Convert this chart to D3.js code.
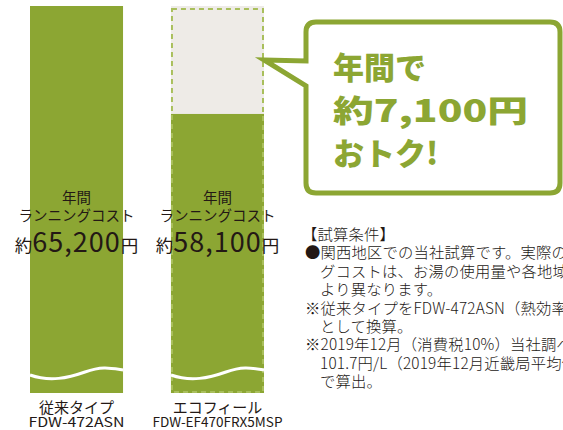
<html lang="ja">
<head>
  <meta charset="UTF-8">
  <title>年間ランニングコスト比較</title>
  <style>
    body { margin: 0; background: #fff; }
    svg text { font-family: "Noto Sans CJK JP", "Noto Sans", sans-serif; }
  </style>
</head>
<body>
  <script src="https://d3js.org/d3.v7.min.js"></script>
  <div id="chart"></div>
  <script>
    // data
    const categories = ["従来タイプ", "エコフィール"];
    const models = ["FDW-472ASN", "FDW-EF470FRX5MSP"];
    const costs = [65200, 58100];
    const costTitle = ["年間", "ランニングコスト"];
    const calloutLines = ["年間で", "約7,100円", "おトク!"];
    const noteLines = [
      { text: "【試算条件】", indent: 0 },
      { text: "●関西地区での当社試算です。実際のランニン", indent: 1 },
      { text: "グコストは、お湯の使用量や各地域の条件に", indent: 2 },
      { text: "より異なります。", indent: 2 },
      { text: "※従来タイプをFDW-472ASN（熱効率78%）", indent: 1 },
      { text: "として換算。", indent: 2 },
      { text: "※2019年12月（消費税10%）当社調べ", indent: 1 },
      { text: "101.7円/L（2019年12月近畿局平均価格）", indent: 2 },
      { text: "で算出。", indent: 2 }
    ];

    const green = "#8ca633", pale = "#eeebe7", dashGreen = "#a9bf5c", ink = "#231815";
    const W = 563, H = 430;

    const svg = d3.select("#chart").append("svg")
      .attr("width", W).attr("height", H);

    // broken axis: bars start at a cut-off baseline (wave marks the break)
    const x = d3.scaleBand().domain(categories).range([30, 264]).paddingInner(0.34);
    const y = d3.scaleLinear().domain([39750, 65200]).range([393, 6]);
    const bw = x.bandwidth();
    const fmt = d3.format(",");

    // pale "saved" area behind the second bar
    const c2 = categories[1];
    svg.append("rect")
      .attr("x", x(c2)).attr("y", y(costs[0]))
      .attr("width", bw).attr("height", y(costs[1]) - y(costs[0]))
      .attr("fill", pale);

    svg.selectAll("rect.bar").data(categories).join("rect")
      .attr("class", "bar")
      .attr("x", d => x(d))
      .attr("y", (d, i) => y(costs[i]))
      .attr("width", bw)
      .attr("height", (d, i) => y.range()[0] - y(costs[i]))
      .attr("fill", green);

    // dashed outline of the old cost level on second bar
    svg.append("rect")
      .attr("x", x(c2) + 1).attr("y", y(costs[0]) + 3)
      .attr("width", bw - 2).attr("height", y.range()[0] - y(costs[0]) - 4)
      .attr("fill", "none")
      .attr("stroke", dashGreen).attr("stroke-width", 2)
      .attr("stroke-dasharray", "5,4");

    // wave (axis break)
    svg.selectAll("path.wave").data(categories).join("path")
      .attr("class", "wave")
      .attr("fill", "none").attr("stroke", "#fff").attr("stroke-width", 3)
      .attr("d", d => {
        const x0 = x(d);
        return `M${x0},375 C${x0 + 20},382 ${x0 + 38},378 ${x0 + 55},372 S${x0 + 80},368 ${x0 + bw},370`;
      });

    // labels in the bars
    const inner = svg.selectAll("g.lab").data(categories).join("g")
      .attr("class", "lab")
      .attr("transform", d => `translate(${x(d) + bw / 2},0)`);

    inner.append("text").attr("y", 203).attr("text-anchor", "middle")
      .attr("fill", ink).style("font-size", "14.5px").text(costTitle[0]);
    inner.append("text").attr("y", 221).attr("text-anchor", "middle")
      .attr("fill", ink).style("font-size", "14.5px").text(costTitle[1]);
    const big = inner.append("text").attr("y", 252).attr("text-anchor", "middle")
      .attr("fill", ink);
    big.append("tspan").style("font-size", "17.5px").text("約");
    big.append("tspan").style("font-size", "27px").style("letter-spacing", "1px")
      .text((d, i) => fmt(costs[i]));
    big.append("tspan").style("font-size", "17.5px").text("円");

    // category labels under the bars
    inner.append("text").attr("y", 413).attr("text-anchor", "middle")
      .attr("fill", ink).style("font-size", "15px").text(d => d);
    inner.append("text").attr("y", 427).attr("text-anchor", "middle")
      .attr("fill", ink).style("font-size", "13px")
      .attr("textLength", (d, i) => i === 0 ? 96 : 130)
      .attr("lengthAdjust", "spacingAndGlyphs")
      .text((d, i) => models[i]);

    // callout bubble pointing at the saved part
    const tipX = x(c2) + bw, tipY = (y(costs[0]) + y(costs[1])) / 2;
    const bx0 = 306, bx1 = 560, by0 = 22, by1 = 193, r = 10;
    const bubble = `M${tipX},${tipY} L${bx0},${tipY + 1} L${bx0},${by0 + r} Q${bx0},${by0} ${bx0 + r},${by0}
      L${bx1 - r},${by0} Q${bx1},${by0} ${bx1},${by0 + r} L${bx1},${by1 - r} Q${bx1},${by1} ${bx1 - r},${by1}
      L${bx0 + r},${by1} Q${bx0},${by1} ${bx0},${by1 - r} L${bx0},${tipY + 26} Z`;
    svg.append("path").attr("d", bubble)
      .attr("fill", "#fff").attr("stroke", green).attr("stroke-width", 5)
      .attr("stroke-linejoin", "miter");

    svg.selectAll("text.call").data(calloutLines).join("text")
      .attr("class", "call")
      .attr("x", 333).attr("y", (d, i) => 79 + i * 43)
      .attr("fill", green)
      .style("font-size", "31px").style("font-weight", "900")
      .attr("textLength", (d, i) => i === 1 ? 195 : null)
      .attr("lengthAdjust", "spacingAndGlyphs")
      .text(d => d);

    // notes
    svg.selectAll("text.note").data(noteLines).join("text")
      .attr("class", "note")
      .attr("x", d => d.indent === 0 ? 302 : d.indent === 1 ? 305 : 320)
      .attr("y", (d, i) => 240 + i * 18.4)
      .attr("fill", ink)
      .style("font-size", "15.3px").style("font-weight", "300")
      .style("letter-spacing", "0.2px")
      .text(d => d.text);
  </script>
</body>
</html>
